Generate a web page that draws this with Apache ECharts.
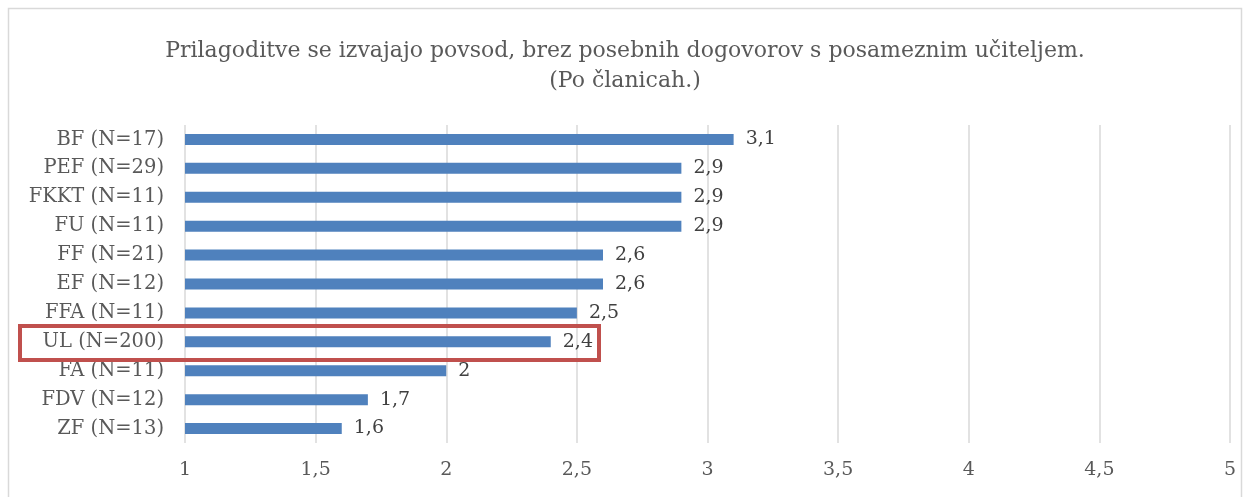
<!DOCTYPE html>
<html>
<head>
<meta charset="utf-8">
<script src="https://cdn.jsdelivr.net/npm/echarts@6/dist/echarts.min.js"></script>
<style>
  html, body { margin: 0; padding: 0; background: #fff; }
  #chart { width: 1250px; height: 497px; }
</style>
</head>
<body>
<div id="chart"></div>
<script>
// clanice, od zgoraj navzdol
let categories = ["BF (N=17)", "PEF (N=29)", "FKKT (N=11)", "FU (N=11)", "FF (N=21)", "EF (N=12)",
  "FFA (N=11)", "UL (N=200)", "FA (N=11)", "FDV (N=12)", "ZF (N=13)"];
let values = [3.1, 2.9, 2.9, 2.9, 2.6, 2.6, 2.5, 2.4, 2, 1.7, 1.6];
let xMin = 1;
let xMax = 5;
let xStep = 0.5;

let font = "'DejaVu Serif', serif";
let fmt = (v) => String(v).replace(".", ",");

var chart = echarts.init(document.getElementById("chart"));
let option = {
  animation: false,
  textStyle: { fontFamily: font },
  title: {
    left: "center",
    top: 31,
    text: "Prilagoditve se izvajajo povsod, brez posebnih dogovorov s posameznim učiteljem.\n(Po članicah.)",
    textStyle: {
      color: "#595959",
      fontFamily: font,
      fontSize: 22,
      fontWeight: "normal",
      lineHeight: 30,
    },
  },
  grid: {
    left: 185,
    right: 20,
    top: 125,
    bottom: 54,
  },
  xAxis: {
    type: "value",
    min: xMin,
    max: xMax,
    interval: xStep,
    axisLine: { show: false },
    axisTick: { show: false },
    splitLine: { show: true, lineStyle: { color: "#d9d9d9", width: 1.5 } },
    axisLabel: {
      color: "#595959",
      fontFamily: font,
      fontSize: 19,
      margin: 18,
      formatter: fmt,
    },
  },
  yAxis: {
    type: "category",
    inverse: true,
    data: categories,
    axisLine: { show: false },
    axisTick: { show: false },
    axisLabel: {
      color: "#595959",
      fontFamily: font,
      fontSize: 19.5,
      margin: 21,
    },
  },
  series: [
    {
      type: "bar",
      data: values,
      barWidth: 11,
      itemStyle: { color: "#4f81bd" },
      label: {
        show: true,
        position: "right",
        distance: 12,
        color: "#404040",
        fontFamily: font,
        fontSize: 19,
        formatter: (p) => fmt(p.value),
      },
    },
  ],
  graphic: [
    {
      type: "rect",
      shape: { x: 8.5, y: 8.5, width: 1233, height: 520 },
      style: { fill: "none", stroke: "#d9d9d9", lineWidth: 1.5 },
      silent: true,
    },
    {
      type: "rect",
      shape: { x: 20, y: 326, width: 579, height: 34 },
      style: { fill: "none", stroke: "#c0504d", lineWidth: 4 },
      z: 100,
      silent: true,
    },
  ],
};
chart.setOption(option);
</script>
</body>
</html>
